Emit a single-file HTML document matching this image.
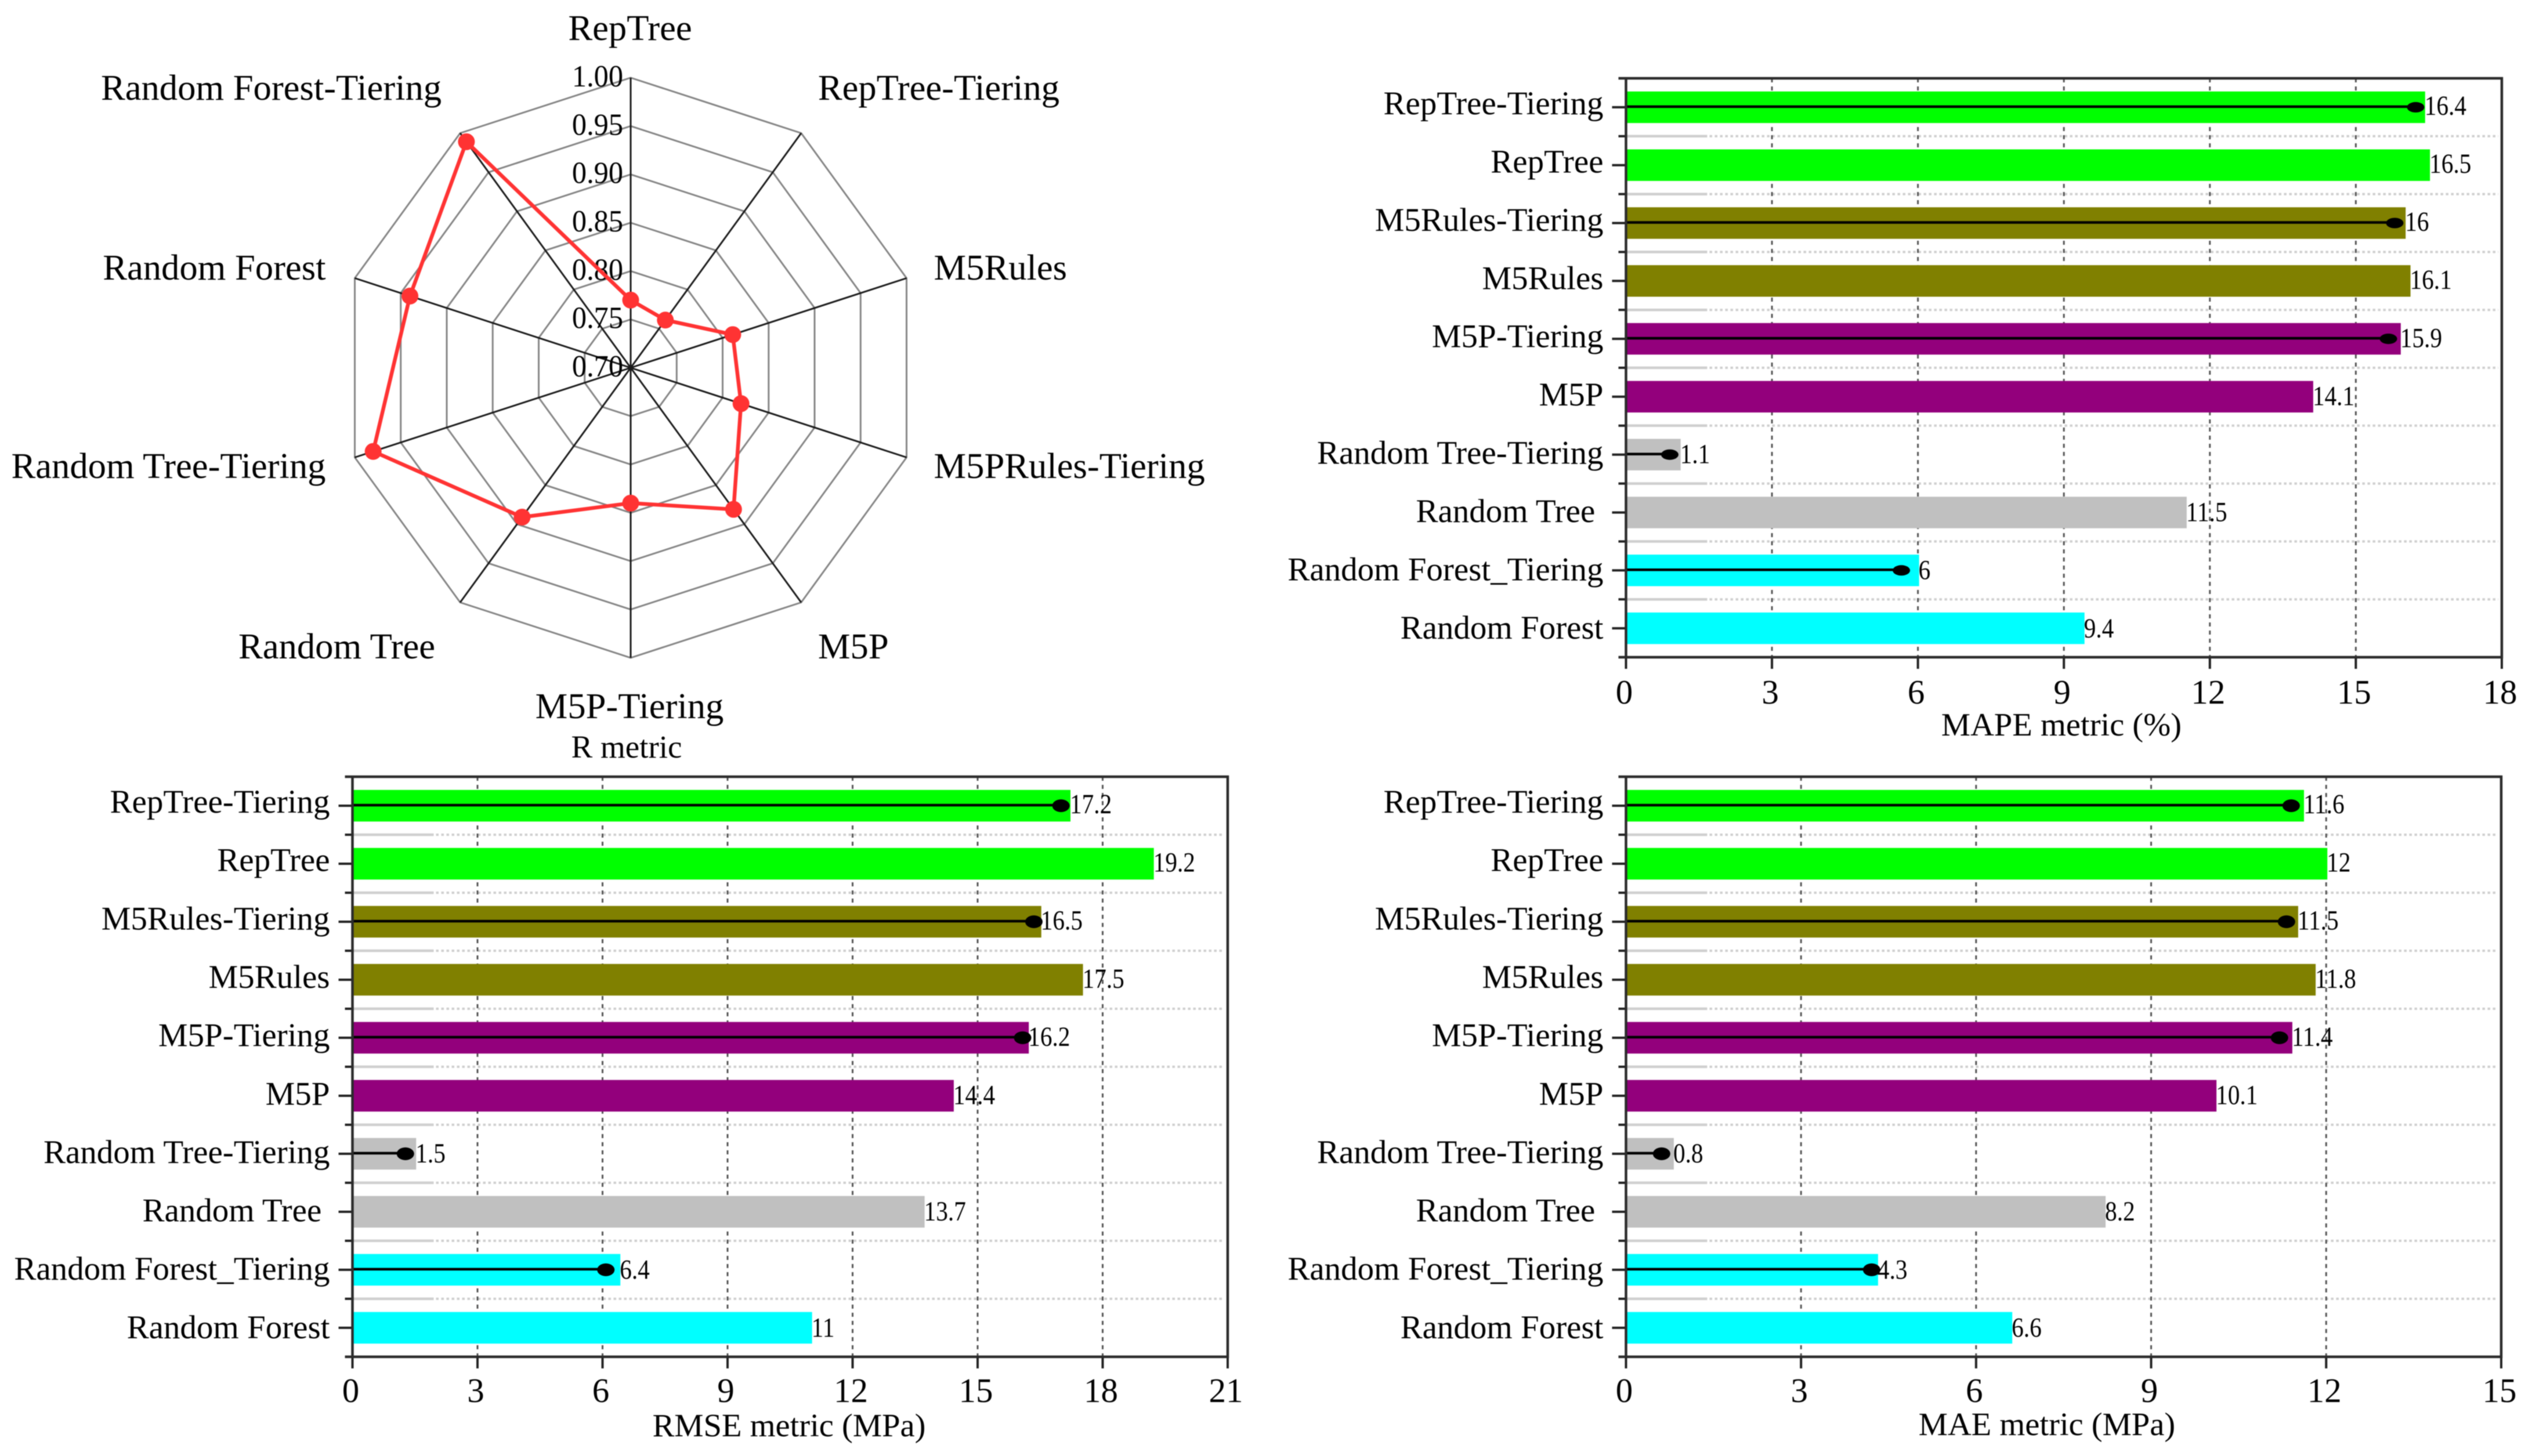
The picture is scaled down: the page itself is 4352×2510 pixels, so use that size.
<!DOCTYPE html>
<html lang="en">
<head>
<meta charset="utf-8">
<title>Model comparison metrics</title>
<style>
html,body{margin:0;padding:0;background:#fff;}
#figure{display:block;width:4352px;height:2510px;filter:blur(0.9px);}
text{font-family:"Liberation Serif",serif;fill:#000;white-space:pre;}
</style>
</head>
<body>
<svg id="figure" xmlns="http://www.w3.org/2000/svg" width="4352" height="2510" viewBox="0 0 4352 2510">
  <rect x="0" y="0" width="4352" height="2510" fill="#fff"/>
  <g id="radar">
    <text x="1080" y="1306" font-size="55" text-anchor="middle">R metric</text>
  </g>
  <g id="mape">
    <text x="3553" y="1268" font-size="56.5" text-anchor="middle">MAPE metric (%)</text>
  </g>
  <g id="rmse">
    <text x="1360" y="2476" font-size="56.5" text-anchor="middle">RMSE metric (MPa)</text>
  </g>
  <g id="mae">
    <text x="3528" y="2474" font-size="56.5" text-anchor="middle">MAE metric (MPa)</text>
  </g>
</svg>
<script>
// ---- radar data ----
const radarCategories = ["RepTree","RepTree-Tiering","M5Rules","M5PRules-Tiering","M5P","M5P-Tiering","Random Tree","Random Tree-Tiering","Random Forest","Random Forest-Tiering"];
const radarValues = [0.77,0.761,0.811,0.82,0.881,0.84,0.891,0.98,0.94,0.989];
const radarTicks = ["0.70","0.75","0.80","0.85","0.90","0.95","1.00"];

// ---- bar chart data ----
const barCategories = ["RepTree-Tiering","RepTree","M5Rules-Tiering","M5Rules","M5P-Tiering","M5P","Random Tree-Tiering","Random Tree ","Random Forest_Tiering","Random Forest"];
const mapeValues = [16.4,16.5,16,16.1,15.9,14.1,1.1,11.5,6,9.4];
const mapeMarkers = [16.23,null,15.8,null,15.67,null,0.9,null,5.66,null];
const mapeTicks = [0,3,6,9,12,15,18];
const rmseValues = [17.2,19.2,16.5,17.5,16.2,14.4,1.5,13.7,6.4,11];
const rmseMarkers = [17.0,null,16.35,null,16.08,null,1.27,null,6.08,null];
const rmseTicks = [0,3,6,9,12,15,18,21];
const maeValues = [11.6,12,11.5,11.8,11.4,10.1,0.8,8.2,4.3,6.6];
const maeMarkers = [11.4,null,11.32,null,11.2,null,0.61,null,4.21,null];
const maeTicks = [0,3,6,9,12,15];

const barPalette = ["#00ff00","#00ff00","#808000","#808000","#93007c","#93007c","#c0c0c0","#c0c0c0","#00ffff","#00ffff"];
const SVG_NS = "http://www.w3.org/2000/svg";

function mk(parent, tag, attrs, text) {
  const el = document.createElementNS(SVG_NS, tag);
  for (const k in attrs) el.setAttribute(k, attrs[k]);
  if (text !== undefined) el.textContent = text;
  parent.appendChild(el);
  return el;
}

// ---- radar ----
function drawRadar() {
  const g = document.getElementById("radar");
  const cx = 1087, cy = 634, R = 500, vMin = 0.7, vMax = 1.0;
  const n = radarCategories.length;
  const rOf = v => (v - vMin) / (vMax - vMin) * R;
  const px = (i, v) => cx + rOf(v) * Math.sin(i * 2 * Math.PI / n);
  const py = (i, v) => cy - rOf(v) * Math.cos(i * 2 * Math.PI / n);

  radarTicks.forEach(t => {
    const v = parseFloat(t);
    if (v > vMin) {
      const pts = radarCategories.map((c, i) => px(i, v).toFixed(1) + "," + py(i, v).toFixed(1)).join(" ");
      const ring = mk(g, "polygon", {points: pts, fill: "none", stroke: "#858585", "stroke-width": 3});
      
      
    }
  });
  radarCategories.forEach((c, i) => {
    const spoke = mk(g, "line", {x1: cx, y1: cy, x2: px(i, vMax), y2: py(i, vMax), stroke: "#1a1a1a", "stroke-width": 3});
    
    
  });
  radarTicks.forEach(t => {
    const y = py(0, parseFloat(t)) + 15;
    const lab = mk(g, "text", {transform: "translate(1074 " + y + ") scale(0.95 1)", "font-size": 53, "text-anchor": "end", fill: "#111"}, t);
    
    
  });

  // category labels placed around the web from the axis angle
  radarCategories.forEach((c, i) => {
    const sx = px(i, vMax);
    let anchor = "middle", x = sx, y;
    if (i === 0) { x = 1086; y = 69; }
    else if (i === 5) { x = 1085; y = 1238; }
    else if (i < 5) { anchor = "start"; x = (i === 1 || i === 4) ? sx + 29 : sx + 47; }
    else { anchor = "end"; x = i === 9 ? sx - 32 : (i === 6 ? sx - 43 : sx - 50); }
    if (i === 1 || i === 9) y = 172;
    if (i === 2 || i === 8) y = 482;
    if (i === 3 || i === 7) y = 824;
    if (i === 4 || i === 6) y = 1135;
    const lab = mk(g, "text", {x: x, y: y, "font-size": 62.6, "text-anchor": anchor}, c);
    
    
  });

  const linePts = radarValues.map((v, i) => px(i, v).toFixed(1) + "," + py(i, v).toFixed(1)).join(" ");
  const poly = mk(g, "polygon", {points: linePts, fill: "none", stroke: "#ff3333", "stroke-width": 6.5, "stroke-linejoin": "round"});
  
  
  radarValues.forEach((v, i) => {
    const dot = mk(g, "circle", {cx: px(i, v), cy: py(i, v), r: 14.5, fill: "#ff3333"});
    
    
  });
}

// ---- bars ----
function drawBars(id, values, markers, ticks, box) {
  const g = document.getElementById(id);
  const xMax = ticks[ticks.length - 1];
  const x = v => box.left + v / xMax * (box.right - box.left);
  const band = (box.bottom - box.top) / barCategories.length;
  const yMid = i => box.top + (i + 0.5) * band;
  const barH = band * 0.545;

  // minor horizontal grid lines
  for (let k = 1; k < barCategories.length; k++) {
    const y = box.top + k * band;
    const solid = mk(g, "line", {x1: box.left, y1: y, x2: box.left + 140, y2: y, stroke: "#cfcfcf", "stroke-width": 4.5});
    
    
    const dots = mk(g, "line", {x1: box.left + 144, y1: y, x2: box.right - 6, y2: y, stroke: "#cfcfcf", "stroke-width": 4, "stroke-dasharray": "4.5 4.5"});
    
    
    const mt = mk(g, "line", {x1: box.left - 13, y1: y, x2: box.left, y2: y, stroke: "#222", "stroke-width": 4});
    
    
  }
  // major vertical grid lines
  ticks.forEach(t => {
    if (t > 0 && t < xMax) {
      const gl = mk(g, "line", {x1: x(t), y1: box.top, x2: x(t), y2: box.bottom, stroke: "#555", "stroke-width": 3, "stroke-dasharray": "7 7"});
      
      
    }
  });
  // bars
  values.forEach((v, i) => {
    const bar = mk(g, "rect", {x: x(0), y: yMid(i) - barH / 2, width: x(v) - x(0) + 2, height: barH, fill: barPalette[i]});
    
    
  });
  // tiering indicator lines and points
  markers.forEach((m, i) => {
    if (m === null) return;
    const ln = mk(g, "line", {x1: box.left - 2, y1: yMid(i) - 1, x2: x(m), y2: yMid(i) - 1, stroke: "#000", "stroke-width": 4.5});
    
    
    const dot = mk(g, "ellipse", {cx: x(m), cy: yMid(i), rx: 15, ry: box.markerRy, fill: "#000"});
    
    
  });
  // value labels
  values.forEach((v, i) => {
    const lab = mk(g, "text", {transform: "translate(" + (x(v) + 1) + " " + (yMid(i) + 13 + i * 0.3) + ") scale(0.86 1)", "font-size": 48, fill: "#111"}, String(v));
    
    
  });
  // category ticks and labels
  barCategories.forEach((c, i) => {
    const tk = mk(g, "line", {x1: box.left - 24, y1: yMid(i), x2: box.left, y2: yMid(i), stroke: "#222", "stroke-width": 4});
    
    
    const lab = mk(g, "text", {x: box.left - 39, y: yMid(i) + box.labelDy + i * 0.65, "font-size": 57, "text-anchor": "end"}, c);
    
    
  });
  // x ticks and labels
  ticks.forEach(t => {
    const tk = mk(g, "line", {x1: x(t), y1: box.bottom, x2: x(t), y2: box.bottom + 20, stroke: "#222", "stroke-width": 4});
    
    
    const lab = mk(g, "text", {x: x(t) - 3, y: box.tickBaseline, "font-size": 59, "text-anchor": "middle"}, String(t));
    
    
  });
  // frame
  const frame = mk(g, "path", {d: "M" + (box.left - 13) + " " + box.top + "H" + box.right + "V" + box.bottom + "H" + (box.left - 13) + "M" + box.left + " " + box.top + "V" + box.bottom, fill: "none", stroke: "#2b2b2b", "stroke-width": 4.5});
  
  
}

drawRadar();
drawBars("mape", mapeValues, mapeMarkers, mapeTicks, {left: 2802.5, right: 4312, top: 135, bottom: 1133, tickBaseline: 1213, labelDy: 12, markerRy: 9});
drawBars("rmse", rmseValues, rmseMarkers, rmseTicks, {left: 607.5, right: 2116, top: 1339, bottom: 2339, tickBaseline: 2417, labelDy: 12, markerRy: 11});
drawBars("mae", maeValues, maeMarkers, maeTicks, {left: 2802.5, right: 4311, top: 1339, bottom: 2339, tickBaseline: 2417, labelDy: 12, markerRy: 11});
</script>
</body>
</html>
